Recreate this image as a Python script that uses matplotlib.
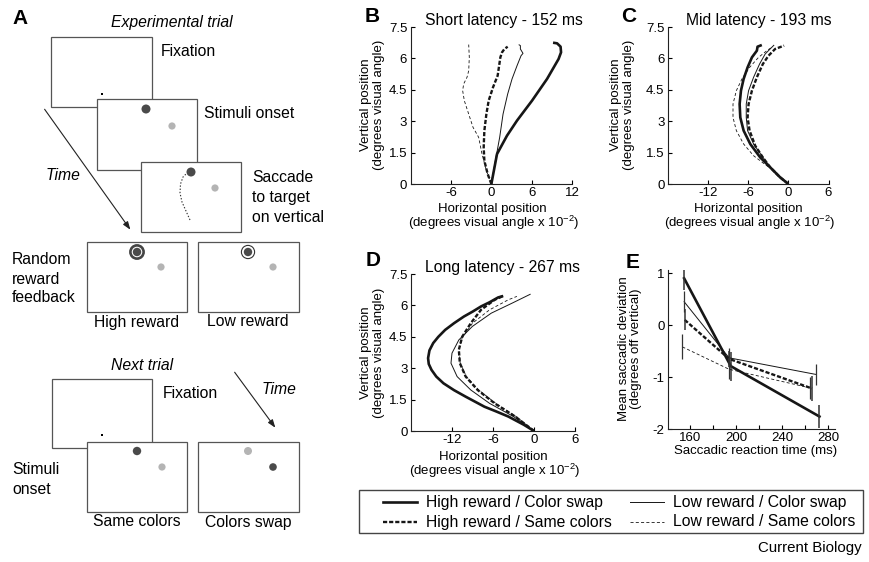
import matplotlib
matplotlib.use("Agg")
import matplotlib.pyplot as plt
from matplotlib.patches import Rectangle, Circle

plt.rcParams.update({"font.family": ["Liberation Sans", "DejaVu Sans"], "font.size": 9.5,
 "axes.unicode_minus": False, "mathtext.default": "regular", "lines.scale_dashes": False,
 "axes.linewidth": 0.8, "axes.edgecolor": "#222",
 "xtick.direction": "in", "ytick.direction": "in", "xtick.major.size": 3, "ytick.major.size": 3,
 "xtick.minor.size": 3, "xtick.major.width": 0.8, "ytick.major.width": 0.8, "xtick.minor.width": 0.8,
 "xtick.major.pad": 2.5, "ytick.major.pad": 2.5})
W, H = 869, 562
INK = "#161616"; BOX = "#555"; DARK = "#4a4a4a"; LIGHT = "#b4b4b4"

conds = ["High reward / Color swap", "High reward / Same colors",
         "Low reward / Color swap", "Low reward / Same colors"]
styles = [dict(lw=1.9, ls="-"), dict(lw=1.7, dashes=(3.0, 1.4)),
          dict(lw=0.7, ls="-"), dict(lw=0.6, dashes=(2.2, 1.6))]

# ---- B: short latency (x in deg x 1e-2, y in deg) ----
b_hc_x = [0, 0.84, 2.33, 3.82, 6.05, 8.29, 9.28, 10.0, 10.37, 10.3, 9.78, 9.18]
b_hc_y = [0, 1.43, 2.31, 3.03, 3.98, 5.02, 5.57, 5.97, 6.29, 6.56, 6.72, 6.75]
b_hs_x = [0, -0.55, -1.04, -1.14, -1.04, -0.74, -0.4, 0.25, 0.94, 1.34, 1.59, 1.94, 2.43]
b_hs_y = [0, 0.48, 1.11, 1.75, 2.55, 3.34, 3.98, 4.62, 5.18, 6.05, 6.29, 6.45, 6.56]
b_lc_x = [0, 0.6, 1.24, 1.74, 2.43, 3.08, 3.82, 4.42, 4.71, 4.32, 4.32, 4.07]
b_lc_y = [0, 1.11, 2.23, 3.34, 4.3, 5.02, 5.65, 6.13, 6.24, 6.45, 6.61, 6.66]
b_ls_x = [0, -0.74, -1.39, -1.89, -2.73, -3.37, -4.02, -4.27, -4.12, -3.62, -3.37, -3.28, -3.37]
b_ls_y = [0, 0.64, 1.43, 2.23, 2.71, 3.34, 3.98, 4.46, 4.78, 5.1, 5.41, 6.05, 6.66]

# ---- C: mid latency ----
c_hc_x = [0, -1.24, -2.73, -4.21, -5.7, -6.69, -7.19, -7.29, -7.09, -6.69, -6.1, -5.45, -4.71, -4.61, -3.97]
c_hc_y = [0, 0.32, 0.8, 1.27, 1.91, 2.55, 3.18, 3.82, 4.46, 5.02, 5.57, 6.05, 6.37, 6.56, 6.64]
c_hs_x = [0, -1.24, -2.73, -3.82, -4.96, -5.8, -6.1, -5.95, -5.45, -4.71, -3.82, -2.97, -1.98, -0.64]
c_hs_y = [0, 0.32, 0.8, 1.27, 1.83, 2.55, 3.18, 3.82, 4.46, 5.1, 5.73, 6.13, 6.45, 6.61]
c_lc_x = [0, -1.24, -2.73, -3.97, -5.2, -6.1, -6.3, -6.3, -5.95, -5.2, -4.31, -3.47, -2.73, -2.13]
c_lc_y = [0, 0.32, 0.8, 1.35, 1.91, 2.55, 3.18, 3.82, 4.46, 5.1, 5.73, 6.21, 6.45, 6.64]
c_ls_x = [0, -1.1, -2.23, -3.72, -5.2, -6.69, -7.78, -8.28, -8.28, -7.78, -6.94, -5.8, -4.46, -3.22, -2.48]
c_ls_y = [0, 0.3, 0.64, 0.99, 1.35, 1.91, 2.55, 3.18, 3.82, 4.46, 5.02, 5.57, 6.05, 6.37, 6.53]

# ---- D: long latency ----
d_hc_x = [0, -1.5, -3.75, -5.5, -7.25, -10.0, -11.7, -13.25, -14.3, -15.0, -15.4, -15.5, -15.3, -14.75, -14.0, -13.0, -11.7, -10.25, -9.0, -7.75, -6.5, -5.25, -4.5]
d_hc_y = [0, 0.3, 0.69, 0.93, 1.16, 1.64, 1.95, 2.28, 2.6, 2.92, 3.2, 3.48, 3.85, 4.2, 4.5, 4.83, 5.15, 5.47, 5.7, 5.95, 6.15, 6.38, 6.45]
d_hs_x = [0, -2.75, -5.75, -8.25, -10.0, -10.85, -11.0, -10.5, -9.25, -7.75, -5.75, -4.65]
d_hs_y = [0, 0.69, 1.32, 1.96, 2.6, 3.24, 3.88, 4.51, 5.15, 5.79, 6.27, 6.43]
d_lc_x = [0, -3.0, -6.5, -9.25, -11.25, -12.15, -12.0, -11.0, -9.0, -6.25, -3.25, -0.5]
d_lc_y = [0, 0.69, 1.32, 1.96, 2.6, 3.24, 3.72, 4.35, 5.0, 5.63, 6.1, 6.54]
d_ls_x = [0, -2.6, -5.6, -8.1, -9.9, -10.8, -11.0, -10.6, -9.0, -6.5, -3.75, -2.5]
d_ls_y = [0, 0.69, 1.32, 1.96, 2.6, 3.24, 3.88, 4.4, 5.15, 5.79, 6.27, 6.43]

# ---- E: mean deviation vs reaction time ----
e_hc_rt = [155, 195.5, 272.5]; e_hc_dev = [0.9, -0.79, -1.76]; e_hc_err = [0.22, 0.28, 0.22]
e_hs_rt = [155.5, 194, 266]; e_hs_dev = [0.1, -0.65, -1.22]; e_hs_err = [0.2, 0.15, 0.24]
e_lc_rt = [155, 194, 269.5]; e_lc_dev = [0.45, -0.63, -0.95]; e_lc_err = [0.2, 0.18, 0.2]
e_ls_rt = [153.5, 194, 264.5]; e_ls_dev = [-0.42, -0.85, -1.21]; e_ls_err = [0.24, 0.18, 0.22]

def box(l, t, r, b):
    return [l / W, 1 - b / H, (r - l) / W, (b - t) / H]

fig = plt.figure(figsize=(W / 100, H / 100), dpi=100)

def traj_panel(rect, xs, ys, xlim, xticks):
    ax = fig.add_axes(rect)
    for x, y, st in zip(xs, ys, styles):
        ax.plot(x, y, color=INK, solid_capstyle="butt", **st)
    ax.set_xlim(*xlim); ax.set_ylim(0, 7.5)
    ax.set_xticks(xticks); ax.set_yticks([0, 1.5, 3, 4.5, 6, 7.5])
    ax.set_yticklabels(["0", "1.5", "3", "4.5", "6", "7.5"])
    for s in ["top", "right"]: ax.spines[s].set_visible(False)
    ax.patch.set_alpha(0)
    return ax

traj_panel(box(410.7, 27, 572, 184), [b_hc_x, b_hs_x, b_lc_x, b_ls_x], [b_hc_y, b_hs_y, b_lc_y, b_ls_y],
           (-12, 12), [-6, 0, 6, 12])
traj_panel(box(668, 27, 828.5, 184), [c_hc_x, c_hs_x, c_lc_x, c_ls_x], [c_hc_y, c_hs_y, c_lc_y, c_ls_y],
           (-18, 6), [-12, -6, 0, 6])
traj_panel(box(411, 274, 575, 431), [d_hc_x, d_hs_x, d_lc_x, d_ls_x], [d_hc_y, d_hs_y, d_lc_y, d_ls_y],
           (-18, 6), [-12, -6, 0, 6])

ax = fig.add_axes(box(668, 270, 835, 429))
for rt, dv, er, st in zip([e_hc_rt, e_hs_rt, e_lc_rt, e_ls_rt], [e_hc_dev, e_hs_dev, e_lc_dev, e_ls_dev],
                          [e_hc_err, e_hs_err, e_lc_err, e_ls_err], styles):
    ax.plot(rt, dv, color=INK, **st)
    ax.errorbar(rt, dv, yerr=er, fmt="none", ecolor="#333", elinewidth=1.1 if st["lw"] > 1 else 0.9, capsize=0)
ax.set_xlim(141, 286); ax.set_ylim(-2, 1.06)
ax.set_xticks([160, 200, 240, 280]); ax.set_xticks([180, 220, 260], minor=True)
ax.set_yticks([-2, -1, 0, 1])
for s in ["top", "right"]: ax.spines[s].set_visible(False)
ax.patch.set_alpha(0)

# ---- overlay in pixel coordinates: panel A, labels, legend ----
ov = fig.add_axes([0, 0, 1, 1], zorder=10)
ov.set_xlim(0, W); ov.set_ylim(H, 0); ov.axis("off"); ov.patch.set_visible(False)
FA = 11.3

def t(x, y, s, **kw):
    kw.setdefault("va", "center")
    ov.text(x, y, s, **kw)

def screen(l, t_, r, b):
    ov.add_patch(Rectangle((l, t_), r - l, b - t_, fc="white", ec=BOX, lw=0.9))

def dot(x, y, c, r):
    ov.add_patch(Circle((x, y), r, fc=c, ec="none"))

# panel letters and titles
t(20, 19, "A", fontsize=15, fontweight="bold", ha="center")
t(372, 17, "B", fontsize=15, fontweight="bold", ha="center")
t(629, 17, "C", fontsize=15, fontweight="bold", ha="center")
t(373, 260, "D", fontsize=15, fontweight="bold", ha="center")
t(633, 262, "E", fontsize=15, fontweight="bold", ha="center")
t(425, 25, "Short latency - 152 ms", fontsize=11.3, va="baseline")
t(686, 25, "Mid latency - 193 ms", fontsize=11.3, va="baseline")
t(425, 272, "Long latency - 267 ms", fontsize=11.3, va="baseline")

# axis labels
ylab = "Vertical position\n(degrees visual angle)"
xl1 = "Horizontal position"; xl2 = "(degrees visual angle x 10$^{-2}$)"
for cx, cy in [(372.5, 105), (622.5, 105), (372.5, 353)]:
    t(cx, cy, ylab, rotation=90, ha="center", linespacing=1.05)
for cx, y1 in [(492, 209), (748, 209), (493, 457)]:
    t(cx, y1, xl1, ha="center")
    t(cx + 2, y1 + 14, xl2, ha="center")
t(630, 349, "Mean saccadic deviation\n(degrees off vertical)", rotation=90, ha="center", linespacing=1.05)
t(756, 451, "Saccadic reaction time (ms)", ha="center")

# panel A schematic
t(172, 23, "Experimental trial", fontsize=FA, style="italic", ha="center")
screen(51, 37, 152, 107); ov.add_patch(Rectangle((101.3, 93.3), 1.5, 1.5, fc="black", ec="none"))
t(161, 52, "Fixation", fontsize=FA)
screen(97, 99, 197, 170); dot(146, 109, DARK, 4.5); dot(172, 126, LIGHT, 3.6)
t(204, 113, "Stimuli onset", fontsize=FA)
screen(141, 162, 241, 232); dot(191, 172, DARK, 4.5); dot(215, 188, LIGHT, 3.6)
ov.plot([190, 186, 182, 180, 180.5, 183, 187], [220, 211, 202, 193, 184, 177, 173],
        color="#333", lw=0.8, ls=(0, (1, 1.3)))
for i, s in enumerate(["Saccade", "to target", "on vertical"]):
    t(252, 178 + 19.5 * i, s, fontsize=FA)
ov.annotate("", xy=(132, 232), xytext=(43, 107),
            arrowprops=dict(arrowstyle="-|>,head_length=0.5,head_width=0.18", lw=0.8, color="#222"))
t(63, 175, "Time", fontsize=FA, style="italic", ha="center")

for i, s in enumerate(["Random", "reward", "feedback"]):
    t(12, 260 + 19 * i, s, fontsize=FA)
screen(87, 242, 187, 312); screen(198, 242, 299, 312)
ov.add_patch(Circle((137, 252), 6.6, fc="none", ec="#444", lw=1.9)); dot(137, 252, DARK, 4.2)
dot(161, 267, LIGHT, 3.6)
ov.add_patch(Circle((248, 252), 6.6, fc="none", ec="#333", lw=0.8)); dot(248, 252, DARK, 4.2)
dot(273, 267, LIGHT, 3.6)
t(137, 322, "High reward", fontsize=FA, ha="center")
t(248, 322, "Low reward", fontsize=FA, ha="center")

t(142, 365, "Next trial", fontsize=FA, style="italic", ha="center")
screen(52, 379, 152, 448); ov.add_patch(Rectangle((101.3, 434.3), 1.5, 1.5, fc="black", ec="none"))
t(163, 393, "Fixation", fontsize=FA)
ov.annotate("", xy=(277, 430), xytext=(233, 370),
            arrowprops=dict(arrowstyle="-|>,head_length=0.5,head_width=0.18", lw=0.8, color="#222"))
t(279, 390, "Time", fontsize=FA, style="italic", ha="center")
screen(87, 442, 187, 512); dot(137, 451, DARK, 4.2); dot(162, 467, LIGHT, 3.6)
screen(198, 442, 299, 512); dot(248, 451, LIGHT, 4.0); dot(273, 467, DARK, 3.8)
t(12, 470, "Stimuli", fontsize=FA); t(12, 489, "onset", fontsize=FA)
t(137, 522, "Same colors", fontsize=FA, ha="center")
t(248, 522, "Colors swap", fontsize=FA, ha="center")

# legend
ov.add_patch(Rectangle((359, 490), 504, 43, fc="none", ec="#444", lw=1.0))
for k, (lab, st) in enumerate(zip(conds, styles)):
    col, row = divmod(k, 2)
    x0 = [383, 630][col]; y0 = [502, 522][row]
    ov.plot([x0, x0 + 34], [y0, y0], color=INK, **st)
    t(x0 + 43, y0, lab, fontsize=FA)

t(862, 548, "Current Biology", fontsize=10.8, ha="right")

fig.savefig("out.png", dpi=100)
